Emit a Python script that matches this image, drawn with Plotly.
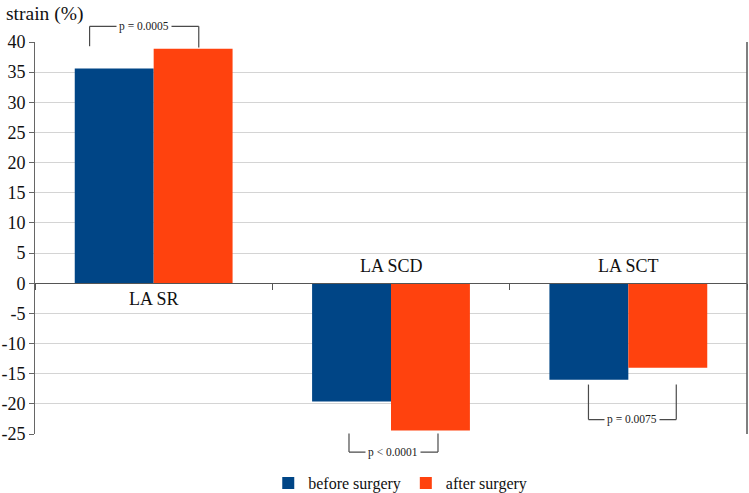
import plotly.graph_objects as go

categories = ["LA SR", "LA SCD", "LA SCT"]
before_surgery = [35.6, -19.6, -16.0]
after_surgery = [38.9, -24.4, -14.0]
p_labels = ["p = 0.0005", "p < 0.0001", "p = 0.0075"]
y_ticks = [40, 35, 30, 25, 20, 15, 10, 5, 0, -5, -10, -15, -20, -25]

# bracket geometry (category-unit offsets and data-unit y values)
bracket_x = [(-0.27, 0.19), (-0.177, 0.198), (-0.168, 0.202)]
bracket_ends = [(39.3, 39.1), (-24.9, -24.9), (-16.8, -16.8)]
bracket_bar = [42.6, -28.0, -22.6]

YMIN, YMAX = -25, 40
FONT = "Liberation Serif"
BLUE = "#004586"
ORANGE = "#ff420e"


def fx(v):
    return (v + 0.5) / 3.0


def fy(v):
    return (v - YMIN) / (YMAX - YMIN)


fig = go.Figure()
fig.add_trace(go.Bar(x=categories, y=before_surgery, name="before surgery",
                     marker=dict(color=BLUE, line=dict(width=0))))
fig.add_trace(go.Bar(x=categories, y=after_surgery, name="after surgery",
                     marker=dict(color=ORANGE, line=dict(width=0))))

ln = dict(color="#4a4a4a", width=1.2)
shapes = []
annotations = []
for i, (lab, (ox0, ox1), (e0, e1), yb) in enumerate(zip(p_labels, bracket_x, bracket_ends, bracket_bar)):
    x0 = fx(i + ox0)
    x1 = fx(i + ox1)
    shapes.append(dict(type="line", xref="x domain", yref="y domain", x0=x0, x1=x0, y0=fy(e0), y1=fy(yb), line=ln))
    shapes.append(dict(type="line", xref="x domain", yref="y domain", x0=x1, x1=x1, y0=fy(e1), y1=fy(yb), line=ln))
    shapes.append(dict(type="line", xref="x domain", yref="y domain", x0=x0, x1=x1, y0=fy(yb), y1=fy(yb), line=ln))
    annotations.append(dict(xref="x domain", yref="y domain", x=(x0 + x1) / 2, y=fy(yb), text=lab,
                            xanchor="center", yanchor="middle",
                            showarrow=False, bgcolor="white", borderpad=2,
                            font=dict(family=FONT, size=11.5, color="#222222")))

# right border of the plot area
shapes.append(dict(type="line", xref="x domain", yref="y domain", x0=1, x1=1, y0=0, y1=1,
                   line=dict(color="#555555", width=1.5)))

# category labels next to the zero line
for i, cat in enumerate(categories):
    shift = -16 if before_surgery[i] > 0 else 17
    annotations.append(dict(x=cat, y=0, xref="x", yref="y", text=cat, showarrow=False, yshift=shift,
                            yanchor="middle",
                            font=dict(family=FONT, size=18, color="#111111")))

annotations.append(dict(xref="paper", yref="paper", x=-0.044, y=1.0, yshift=28, xanchor="left",
                        yanchor="middle", text="strain (%)", showarrow=False,
                        font=dict(family=FONT, size=19.5, color="#111111")))

fig.update_layout(
    width=749, height=493,
    margin=dict(l=35, r=2, t=42, b=59),
    plot_bgcolor="white", paper_bgcolor="white",
    barmode="group", bargap=0.335, bargroupgap=0,
    font=dict(family=FONT, size=16, color="#111111"),
    showlegend=True,
    legend=dict(orientation="h", x=0.513, xanchor="center",
                yref="container", y=(493 - 483) / 493, yanchor="middle",
                font=dict(family=FONT, size=16), itemwidth=30, tracegroupgap=0),
    shapes=shapes,
    annotations=annotations,
    xaxis=dict(
        range=[-0.5, 2.5], showticklabels=False, showgrid=False,
        showline=True, linecolor="#555555", linewidth=1,
        anchor="free", position=fy(0),
        ticks="outside", tickson="boundaries", ticklen=6, tickcolor="#555555",
        zeroline=False, automargin=False,
    ),
    yaxis=dict(
        range=[YMIN, YMAX], tickvals=y_ticks, ticktext=[str(v) for v in y_ticks],
        showgrid=True, gridcolor="#d4d4d4", gridwidth=1,
        showline=True, linecolor="#666666", linewidth=1,
        ticks="outside", ticklen=5, tickcolor="#666666",
        zeroline=True, zerolinecolor="#555555", zerolinewidth=1,
        automargin=False,
        tickfont=dict(family=FONT, size=18, color="#111111"),
    ),
)

fig.write_html("out.html", config={"displayModeBar": False},
               post_script="document.body.style.margin='0';")
